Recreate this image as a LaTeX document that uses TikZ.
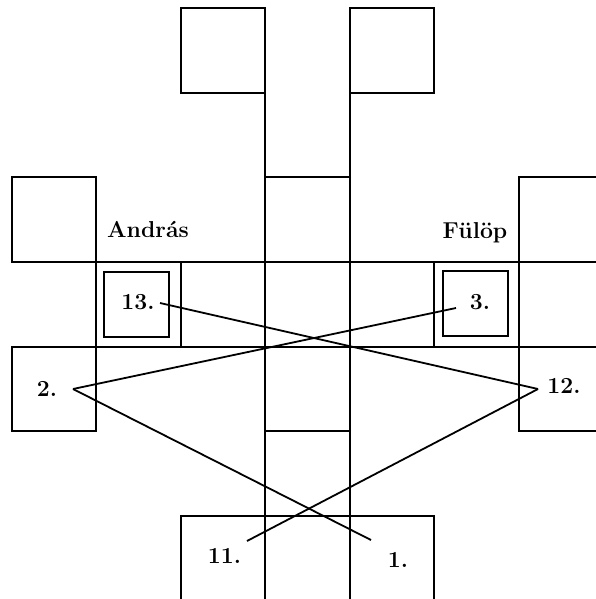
\documentclass[tikz,border=0pt]{standalone}
\begin{document}
\begin{tikzpicture}[x=1pt, y=-1pt,
  grid/.style={line width=2pt, line cap=rect},
  link/.style={line width=1.8pt},
  lab/.style={font=\fontsize{23}{27}\selectfont\bfseries, inner sep=0pt, anchor=base},
]
\useasboundingbox (0,0) rectangle (595,599);
  % top boxes
  \draw[grid] (181,8) rectangle (265,93);
  \draw[grid] (350,8) rectangle (434,93);
  % central column
  \draw[grid] (265,8) -- (265,610);
  \draw[grid] (350,8) -- (350,610);
  \draw[grid] (265,177) -- (350,177);
  \draw[grid] (265,431) -- (350,431);
  % row 2 side boxes
  \draw[grid] (12,177) rectangle (96,262);
  \draw[grid] (519,177) rectangle (610,262);
  % row 3 strip
  \draw[grid] (12,262) -- (610,262);
  \draw[grid] (12,347) -- (610,347);
  \foreach \c in {96,181,434,519} \draw[grid] (\c,262) -- (\c,347);
  % row 4 side boxes
  \draw[grid] (12,347) rectangle (96,431);
  \draw[grid] (519,347) rectangle (610,431);
  % bottom row
  \draw[grid] (181,610) -- (181,516) -- (434,516) -- (434,610);
  % inner boxes
  \draw[grid] (104,272) rectangle (169,337);
  \draw[grid] (443,271) rectangle (508,336);

  % labels
  \node[lab] (andras) at (148,237) {András};
  \node[lab] (fulop)  at (475,238) {Fülöp};
  \node[lab] (n13) at (138,309) {13.};
  \node[lab] (n3)  at (480,309) {3.};
  \node[lab] (n2)  at (47,396) {2.};
  \node[lab] (n12) at (564,393) {12.};
  \node[lab] (n11) at (224.5,563) {11.};
  \node[lab] (n1)  at (398,567.5) {1.};

  % connector end points
  \coordinate (p13) at (160,303);
  \coordinate (p12) at (538,389);
  \coordinate (p2)  at (73,389);
  \coordinate (p3)  at (456,308);
  \coordinate (p1)  at (371,540);
  \coordinate (p11) at (247,541);

  \draw[link] (p13) -- (p12);
  \draw[link] (p2) -- (p3);
  \draw[link] (p2) -- (p1);
  \draw[link] (p12) -- (p11);
\end{tikzpicture}
\end{document}
